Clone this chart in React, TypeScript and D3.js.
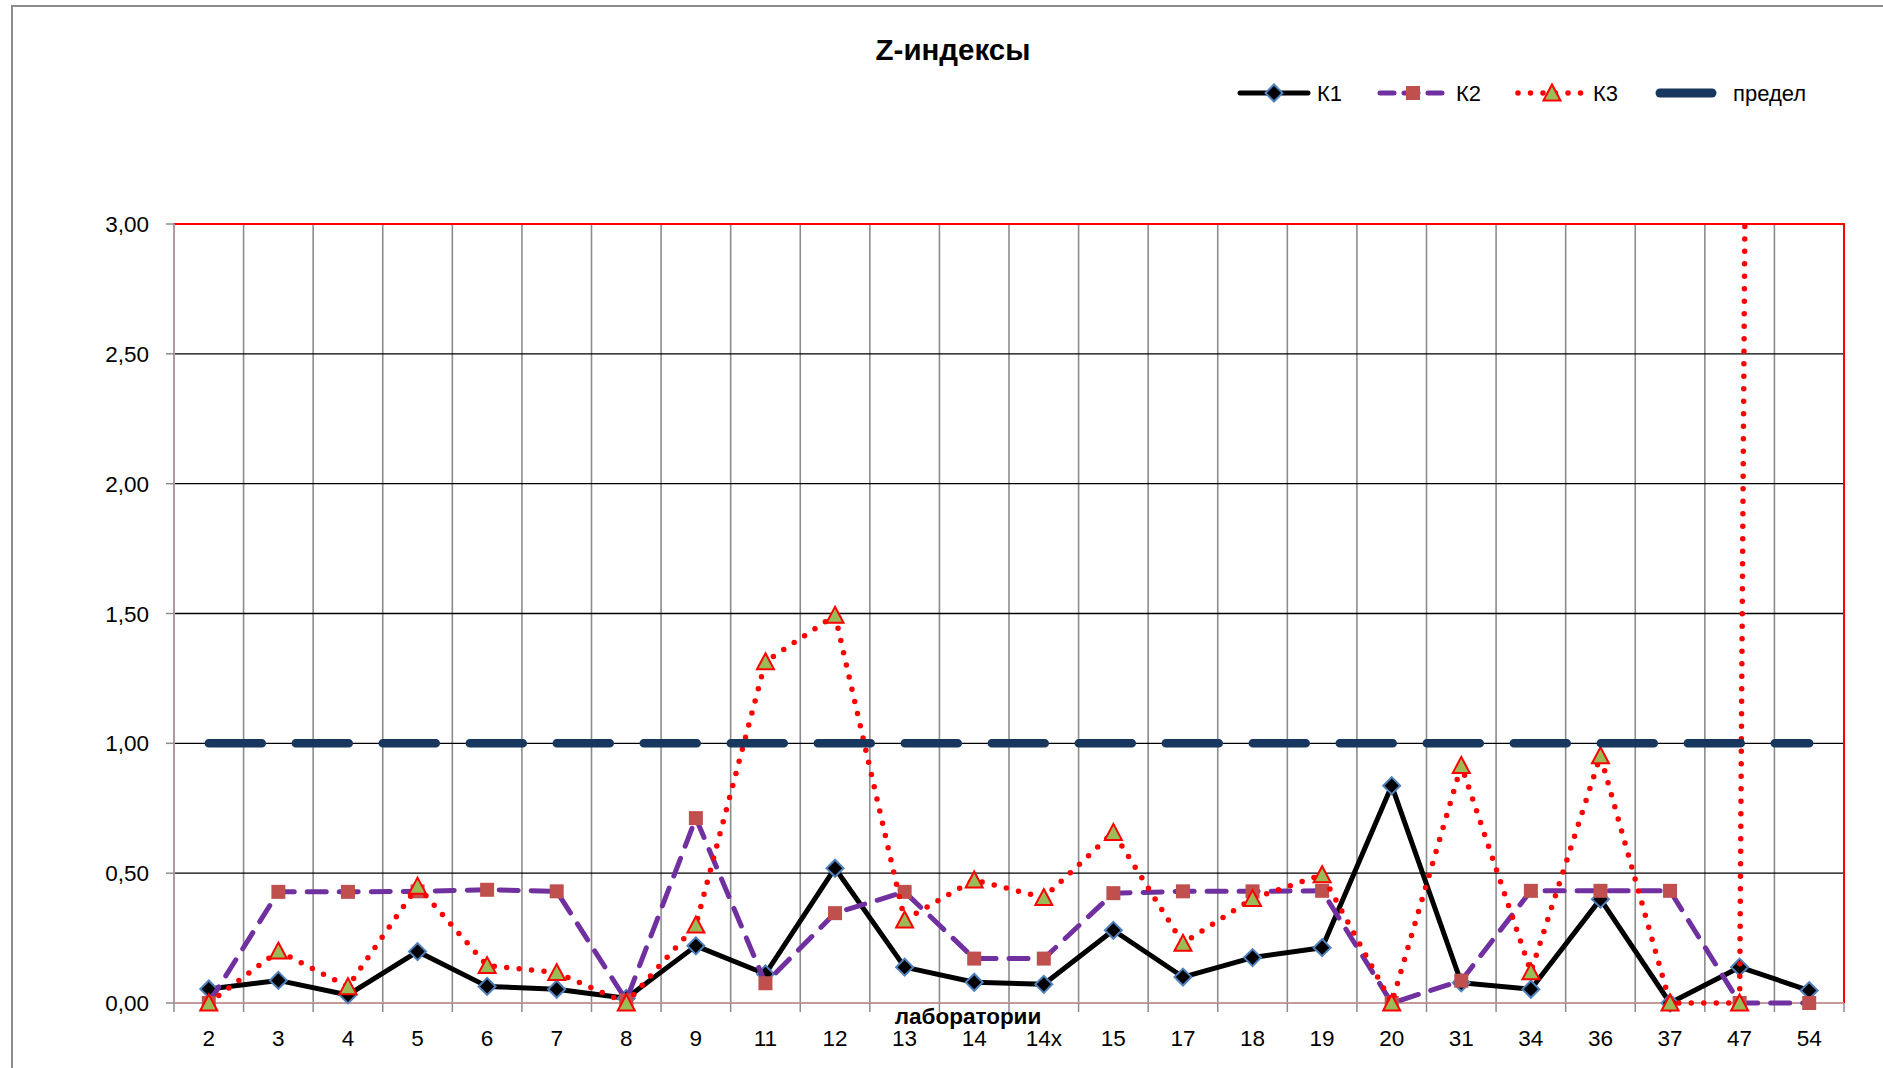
import * as d3 from 'd3';

// Z-индексы по лабораториям
const categories = ['2', '3', '4', '5', '6', '7', '8', '9', '11', '12', '13', '14', '14x', '15', '17', '18', '19', '20', '31', '34', '36', '37', '47', '54'];
const k1 = [0.054, 0.087, 0.031, 0.198, 0.064, 0.053, 0.018, 0.22, 0.112, 0.519, 0.138, 0.08, 0.072, 0.28, 0.1, 0.175, 0.213, 0.837, 0.078, 0.053, 0.4, 0, 0.138, 0.048];
const k2 = [0, 0.428, 0.428, 0.43, 0.436, 0.43, 0.01, 0.712, 0.076, 0.346, 0.428, 0.171, 0.171, 0.423, 0.43, 0.43, 0.432, 0, 0.086, 0.432, 0.432, 0.432, 0, 0];
const k3 = [0, 0.2, 0.063, 0.45, 0.144, 0.117, 0, 0.3, 1.314, 1.493, 0.32, 0.474, 0.406, 0.657, 0.23, 0.402, 0.494, 0, 0.915, 0.12, 0.952, 0, 0, 40];
const limit = [1, 1, 1, 1, 1, 1, 1, 1, 1, 1, 1, 1, 1, 1, 1, 1, 1, 1, 1, 1, 1, 1, 1, 1];
const yTicks = [0, 0.5, 1, 1.5, 2, 2.5, 3];
const seriesNames = ['К1', 'К2', 'К3', 'предел'];

const W = 1883;
const H = 1068;
const font = "'Liberation Sans', Arial, sans-serif";

function Diamond({ x, y }: { x: number; y: number }) {
  return (
    <rect x={x - 6} y={y - 6} width={12} height={12} transform={`rotate(45 ${x} ${y})`}
      fill="#000" stroke="#4f81bd" strokeWidth={2} />
  );
}

function Square({ x, y }: { x: number; y: number }) {
  return <rect x={x - 7} y={y - 7} width={14} height={14} fill="#c0504d" />;
}

function Triangle({ x, y }: { x: number; y: number }) {
  return (
    <path d={`M${x},${y - 8.5}L${x + 8.5},${y + 7.5}L${x - 8.5},${y + 7.5}Z`}
      fill="#9bbb59" stroke="#ff0000" strokeWidth={2} strokeLinejoin="miter" />
  );
}

export default function App() {
  const left = 174, right = 1844, top = 224, bottom = 1003;

  const x = d3.scaleBand<string>().domain(categories).range([left, right]).padding(0);
  const y = d3.scaleLinear().domain([0, 3]).range([bottom, top]);
  const cx = (i: number) => (x(categories[i]) as number) + x.bandwidth() / 2;
  const line = d3.line<number>().x((_, i) => cx(i)).y(d => y(d));
  const fmt = (v: number) => d3.format('.2f')(v).replace('.', ',');

  const bounds = d3.range(categories.length + 1).map(i => left + i * x.bandwidth());

  const styles = {
    k1: { stroke: '#000', strokeWidth: 5, strokeLinejoin: 'round' as const },
    k2: { stroke: '#7030a0', strokeWidth: 5, strokeDasharray: '19 13', strokeLinecap: 'round' as const, strokeLinejoin: 'round' as const },
    k3: { stroke: '#ff0000', strokeWidth: 5.5, strokeDasharray: '0 12.5', strokeLinecap: 'round' as const, strokeLinejoin: 'round' as const },
    lim: { stroke: '#17375e', strokeWidth: 8.5, strokeDasharray: '53 34', strokeLinecap: 'round' as const },
  };

  return (
    <svg width={W} height={H} style={{ position: 'absolute', left: 0, top: 0, background: '#fff' }} fontFamily={font}>
      <defs>
        <clipPath id="plotClip">
          <rect x={left} y={top} width={right - left} height={H - top} />
        </clipPath>
      </defs>
      {/* chart area border */}
      <rect x={12} y={6} width={W + 20} height={H + 20} fill="#fff" stroke="#8c8c8c" strokeWidth={2} />

      <text x={953} y={60} textAnchor="middle" fontSize={29.5} fontWeight="bold">Z-индексы</text>

      {/* grid */}
      {bounds.slice(1, -1).map((b, i) => (
        <line key={`v${i}`} x1={b} x2={b} y1={top} y2={bottom} stroke="#8c8c8c" strokeWidth={1.6} />
      ))}
      {yTicks.map(t => (
        <line key={`h${t}`} x1={left} x2={right} y1={y(t)} y2={y(t)} stroke="#000" strokeWidth={1.3} />
      ))}
      <path d={`M${left},${top}H${right}V${bottom}`} fill="none" stroke="#ff0000" strokeWidth={2} />
      <line x1={left} x2={left} y1={top} y2={bottom} stroke="#b09a9a" strokeWidth={2} />
      <line x1={left} x2={right} y1={bottom} y2={bottom} stroke="#c49a9a" strokeWidth={2} />

      {/* y axis */}
      {yTicks.map(t => (
        <g key={`yt${t}`}>
          <line x1={166} x2={left} y1={y(t)} y2={y(t)} stroke="#8c8c8c" strokeWidth={1.5} />
          <text x={149} y={y(t)} dy="0.36em" textAnchor="end" fontSize={22.5}>{fmt(t)}</text>
        </g>
      ))}

      {/* x axis */}
      {bounds.map((b, i) => (
        <line key={`xt${i}`} x1={b} x2={b} y1={bottom} y2={bottom + 9} stroke="#8c8c8c" strokeWidth={1.5} />
      ))}
      {categories.map((c, i) => (
        <text key={`xl${c}`} x={cx(i)} y={1046} textAnchor="middle" fontSize={22.5}>{c}</text>
      ))}
      <text x={968} y={1024} textAnchor="middle" fontSize={22.5} fontWeight="bold">лаборатории</text>

      {/* series */}
      <g clipPath="url(#plotClip)">
        <path d={line(k1) as string} fill="none" {...styles.k1} />
        {k1.map((v, i) => <Diamond key={`d${i}`} x={cx(i)} y={y(v)} />)}
        <path d={line(k2) as string} fill="none" {...styles.k2} />
        {k2.map((v, i) => <Square key={`s${i}`} x={cx(i)} y={y(v)} />)}
        <path d={line(k3) as string} fill="none" {...styles.k3} />
        {k3.map((v, i) => (v <= 3 ? <Triangle key={`t${i}`} x={cx(i)} y={y(v)} /> : null))}
        <path d={line(limit) as string} fill="none" {...styles.lim} />
      </g>

      {/* legend */}
      <g>
        <line x1={1240} x2={1308} y1={93} y2={93} {...styles.k1} strokeLinecap="round" />
        <Diamond x={1274} y={93} />
        <text x={1317} y={93} dy="0.36em" fontSize={22}>{seriesNames[0]}</text>

        <line x1={1380} x2={1446} y1={93} y2={93} stroke="#7030a0" strokeWidth={5} strokeDasharray="14 10" strokeLinecap="round" />
        <Square x={1413} y={93} />
        <text x={1456} y={93} dy="0.36em" fontSize={22}>{seriesNames[1]}</text>

        <line x1={1518} x2={1588} y1={93} y2={93} stroke="#ff0000" strokeWidth={5.5} strokeDasharray="0 12.5" strokeLinecap="round" />
        <Triangle x={1552} y={93} />
        <text x={1593} y={93} dy="0.36em" fontSize={22}>{seriesNames[2]}</text>

        <line x1={1660} x2={1712} y1={93} y2={93} stroke="#17375e" strokeWidth={9} strokeLinecap="round" />
        <text x={1733} y={93} dy="0.36em" fontSize={22}>{seriesNames[3]}</text>
      </g>
    </svg>
  );
}
